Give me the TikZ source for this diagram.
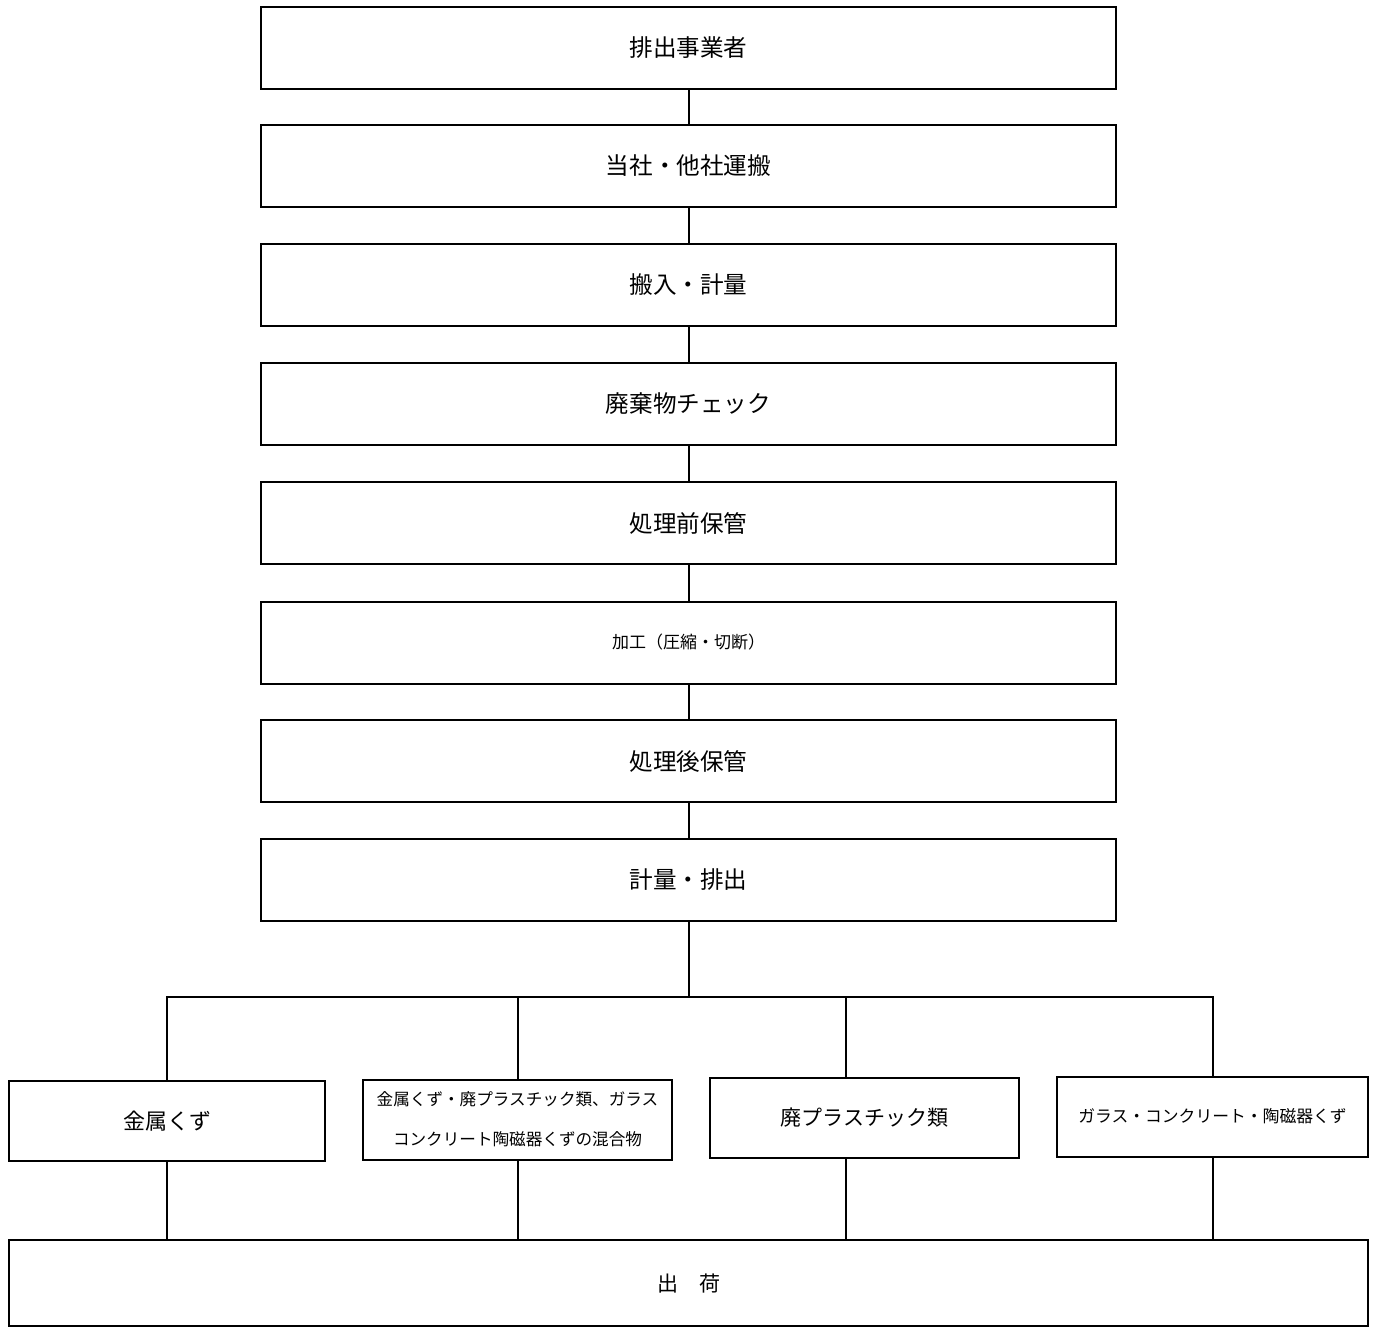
\documentclass[tikz,border=0pt]{standalone}
\usepackage{fontspec}
\setmainfont{Noto Sans CJK JP}
\tikzstyle{step2} = [rectangle,draw,line width=1pt,minimum width=427.5pt,minimum height=41pt,font=\fontsize{11.8}{14}\selectfont]
\tikzstyle{kind} = [rectangle,draw,line width=1pt,minimum width=155pt,minimum height=40pt,align=center]
\tikzstyle{edge} = [line width=1pt]

\begin{document}
\begin{tikzpicture}[x=0.5pt,y=-0.5pt]
\useasboundingbox (0,0) rectangle (1376,1329);

% vertices
\node[step2] (n1) at (688.5,48) {排出事業者};
\node[step2] (n2) at (688.5,166) {当社・他社運搬};
\node[step2] (n3) at (688.5,284.5) {搬入・計量};
\node[step2] (n4) at (688.5,404) {廃棄物チェック};
\node[step2] (n5) at (688.5,523) {処理前保管};
\node[step2,font=\fontsize{8.5}{10}\selectfont] (n6) at (688.5,642.5) {加工（圧縮・切断）};
\node[step2] (n7) at (688.5,761) {処理後保管};
\node[step2] (n8) at (688.5,880) {計量・排出};

\coordinate (split) at (688.5,997);

\node[kind,minimum width=158pt,font=\fontsize{11}{13}\selectfont] (b1) at (167,1121) {金属くず};
\node[kind,minimum width=154.5pt,font=\fontsize{8.3}{20}\selectfont] (b2) at (517.5,1119.5) {金属くず・廃プラスチック類、ガラス\\コンクリート陶磁器くずの混合物};
\node[kind,minimum width=154.5pt,font=\fontsize{10.5}{13}\selectfont] (b3) at (864.5,1118) {廃プラスチック類};
\node[kind,minimum width=155.5pt,font=\fontsize{8.4}{10}\selectfont] (b4) at (1212.5,1116.5) {ガラス・コンクリート・陶磁器くず};

\node[rectangle,draw,line width=1pt,minimum width=679.5pt,minimum height=43pt,font=\fontsize{10.5}{13}\selectfont] (out) at (688.5,1283) {出　荷};

% edges
\foreach \i [evaluate=\i as \j using int(\i+1)] in {1,...,7} {
    \draw[edge] (n\i) -- (n\j);
}
\draw[edge] (n8) -- (split);

\foreach \b/\s in {b1/0,b2/0,b3/-9.25,b4/0} {
    \draw[edge] (split) -| ([xshift=\s pt]\b.north);
    \draw[edge] ([xshift=\s pt]\b.south) -- ([xshift=\s pt]\b.south |- out.north);
}

\end{tikzpicture}
\end{document}
